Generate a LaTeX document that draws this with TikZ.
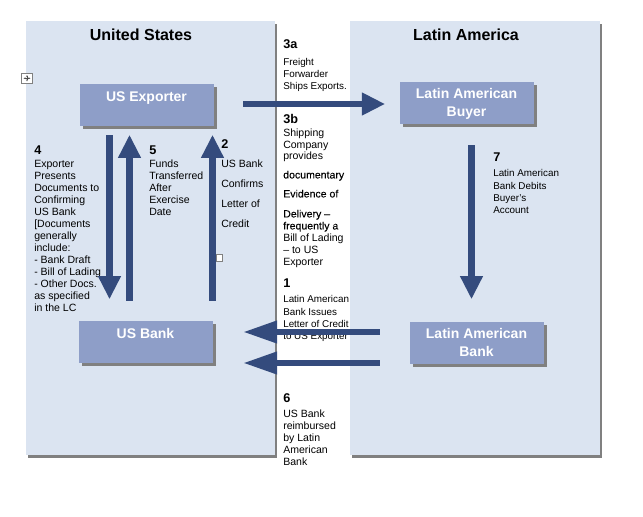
\documentclass[tikz,border=0pt]{standalone}
\usepackage{fontspec}
\setmainfont{Liberation Sans}
\newfontfamily\heavyfont[FakeBold=0.15]{Liberation Sans}
\usetikzlibrary{arrows.meta,positioning,shadows}
\definecolor{panelblue}{RGB}{219,228,241}
\definecolor{partyblue}{RGB}{142,158,200}
\definecolor{flowblue}{RGB}{52,75,125}
\definecolor{shadowgray}{RGB}{128,128,128}
\tikzset{
  panel/.style={fill=panelblue, draw=none, drop shadow={shadow xshift=1.5pt, shadow yshift=-2pt, fill=shadowgray, opacity=1}},
  party/.style={fill=partyblue, draw=none, text=white, font=\fontsize{10.5}{13.5}\selectfont\bfseries, align=center, minimum width=100.5pt, minimum height=31.5pt, inner sep=0pt, drop shadow={shadow xshift=2.25pt, shadow yshift=-2.25pt, fill=shadowgray, opacity=1}},
  oneline/.style={text depth=13pt},
  flow/.style={flowblue, line width=5pt, -{Triangle[length=17pt, width=17.5pt, line width=0pt]}},
  longflow/.style={flow, -{Triangle[length=24.75pt, width=17.5pt, line width=0pt]}},
  title/.style={font=\fontsize{12}{14}\selectfont\bfseries, anchor=base},
  note/.style={font=\fontsize{7.9}{9}\selectfont, align=left, anchor=north west, inner sep=0pt},
  smallnote/.style={note, font=\fontsize{7.4}{9.2}\selectfont},
  handle/.style={draw=gray, fill=white, line width=0.5pt}
}
\newcommand{\stepno}[1]{{\fontsize{9.5}{11}\selectfont\bfseries #1}}

\begin{document}
\begin{tikzpicture}[x=0.75pt,y=-0.75pt]
  \useasboundingbox (0,0) rectangle (643,517);

  % United States side
  \path[panel] (26,21) rectangle (275,455);
  \node[title] (ustitle) at (141,41) {United States};
  \node[party, oneline] (exporter) at (146.5,105.5) {US Exporter};
  \node[party, oneline] (usbank) at (145.5,342) {US Bank};

  % Latin America side
  \path[panel] (350,21) rectangle (600,455);
  \node[title] (latitle) at (466,41) {Latin America};
  \node[party] (buyer) at (466.5,103.5) {Latin American\\Buyer};
  \node[party] (labank) at (476.5,342.5) {Latin American\\Bank};

  % editor handles
  \draw[handle] (21.5,73) rectangle (32.5,83.5);
  \draw[black!70, line width=0.4pt, {Stealth[length=1.5pt]}-{Stealth[length=1.5pt]}] (23.5,78.25) -- (30.5,78.25);
  \draw[black!70, line width=0.4pt, {Stealth[length=1.5pt]}-{Stealth[length=1.5pt]}] (27,75) -- (27,81.5);
  \draw[handle] (216,254.5) rectangle (222.5,261);

  % steps
  \node[smallnote] (step3a) at (283,39) {\stepno{3a}\\[3.5pt] Freight\\ Forwarder\\ Ships Exports.};
  \node[note] (step3b) at (283,114) {\stepno{3b}\\[0.75pt] Shipping\\ Company\\[-0.75pt] provides\\[5.25pt] {\heavyfont documentary}\\[5.25pt] {\heavyfont Evidence of}\\[6pt] {\heavyfont Delivery –}\\ {\heavyfont frequently a}\\ Bill of Lading\\ – to US\\ Exporter};
  \node[smallnote] (step1) at (283,279) {\stepno{1}\\[2pt] Latin American\\ Bank Issues\\ Letter of Credit\\ to US Exporter};
  \node[note] (step6) at (283,393) {\stepno{6}\\[2.25pt] US Bank\\ reimbursed\\ by Latin\\ American\\ Bank};
  \node[note] (step2) at (221,139) {\stepno{2}\\[5.25pt] US Bank\\[6pt] Confirms\\[6pt] Letter of\\[6pt] Credit};
  \node[note] (step4) at (34,146) {\stepno{4}\\[0.75pt] Exporter\\ Presents\\ Documents to\\ Confirming\\ US Bank\\ {[}Documents\\ generally\\ include:\\ - Bank Draft\\ - Bill of Lading\\ - Other Docs.\\ as specified\\ in the LC};
  \node[note] (step5) at (149,146) {\stepno{5}\\[0.75pt] Funds\\ Transferred\\ After\\ Exercise\\ Date};
  \node[smallnote] (step7) at (493,153) {\stepno{7}\\[2pt] Latin American\\ Bank Debits\\ Buyer's\\ Account};

  % arrow columns and rows
  \coordinate (c4) at (109.5,0);
  \coordinate (c5) at (129.5,0);
  \coordinate (c2) at (212.5,0);
  \coordinate (c7) at (471.5,0);
  \coordinate (r3) at (0,104);
  \coordinate (r1) at (0,332);
  \coordinate (r6) at (0,363);

  % flows
  \draw[flow, shorten <=22pt, shorten >=11pt] (exporter.east |- r3) -- (buyer.west |- r3);
  \draw[flow, shorten <=6.4pt, shorten >=16.5pt] (exporter.south -| c4) -- (usbank.north -| c4);
  \draw[flow, shorten <=15pt, shorten >=6.4pt] (usbank.north -| c5) -- (exporter.south -| c5);
  \draw[flow, shorten <=15pt, shorten >=6.4pt] (usbank.north -| c2) -- (exporter.south -| c2);
  \draw[flow, shorten <=15.4pt, shorten >=16.9pt] (buyer.south -| c7) -- (labank.north -| c7);
  \draw[longflow, shorten <=22pt, shorten >=23.6pt] (labank.west |- r1) -- (usbank.east |- r1);
  \draw[longflow, shorten <=22pt, shorten >=23.6pt] (labank.west |- r6) -- (usbank.east |- r6);
\end{tikzpicture}
\end{document}
